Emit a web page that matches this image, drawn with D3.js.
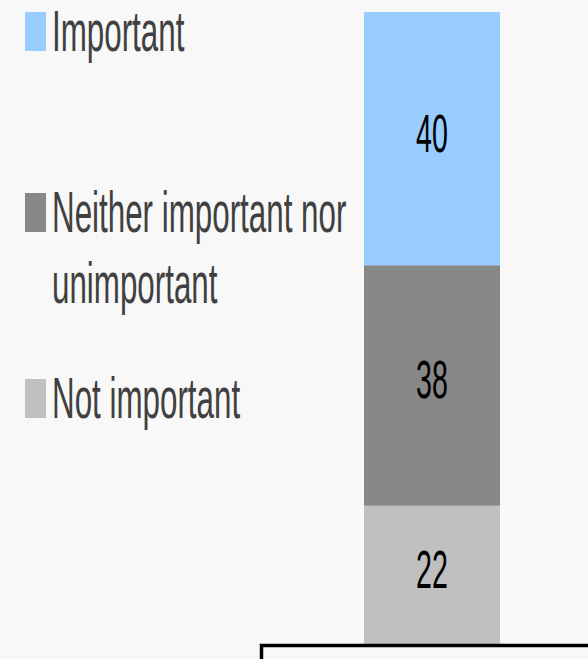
<!DOCTYPE html>
<html>
<head>
<meta charset="utf-8">
<script src="https://cdn.jsdelivr.net/npm/d3@7"></script>
<style>
  html, body { margin: 0; padding: 0; background: #f8f8f8; }
  svg { display: block; }
  text { font-family: "Liberation Sans", Arial, sans-serif; }
</style>
</head>
<body>
<svg id="chart" width="588" height="659"></svg>
<script>
// Share of responses, stacked from the bottom up
const categories = ["Not important", "Neither important nor unimportant", "Important"];
const values = [22, 38, 40];
const colors = ["#c0c0c0", "#888888", "#99ccff"];
// Legend entries top to bottom, each split into its display lines
const legendLines = [
  ["Important"],
  ["Neither important nor", "unimportant"],
  ["Not important"]
];
const legendColors = ["#99ccff", "#888888", "#c0c0c0"];

const W = 588, H = 659;
const svg = d3.select("#chart");
svg.append("rect").attr("width", W).attr("height", H).attr("fill", "#f8f8f8");

const x = d3.scaleBand().domain(["all"]).range([364, 500]).padding(0);
const y = d3.scaleLinear().domain([0, 100]).range([645, 12]);

// cumulative stacking
let acc = 0;
const segs = values.map((v, i) => {
  const s = { key: categories[i], y0: acc, y1: acc + v, value: v, color: colors[i] };
  acc += v;
  return s;
});

const bar = svg.append("g");
bar.selectAll("rect").data(segs).join("rect")
  .attr("x", x("all"))
  .attr("width", x.bandwidth())
  .attr("y", d => y(d.y1))
  .attr("height", d => y(d.y0) - y(d.y1))
  .attr("fill", d => d.color);

const sx = 0.53;
bar.selectAll("text").data(segs).join("text")
  .attr("transform", d => `translate(${x("all") + x.bandwidth() / 2},${(y(d.y0) + y(d.y1)) / 2 + 13}) scale(${sx},1)`)
  .attr("text-anchor", "middle")
  .attr("font-size", 54)
  .attr("fill", "#000")
  .text(d => d.value);

// Legend
const legendTop = [51, 232, 418];
const lineGap = 71;
const lg = svg.append("g");
legendLines.forEach((lines, i) => {
  const base = legendTop[i];
  lg.append("rect")
    .attr("x", 25).attr("y", base - 39)
    .attr("width", 21).attr("height", 39)
    .attr("fill", legendColors[i]);
  lines.forEach((t, j) => {
    lg.append("text")
      .attr("transform", `translate(52,${base + j * lineGap}) scale(0.55,1)`)
      .attr("font-size", 57)
      .attr("fill", "#404040")
      .text(t);
  });
});

// Framed panel along the bottom edge
svg.append("rect")
  .attr("x", 261.5).attr("y", 645.5)
  .attr("width", 340).attr("height", 40)
  .attr("fill", "#f8f8f8")
  .attr("stroke", "#000")
  .attr("stroke-width", 3.5);
</script>
</body>
</html>
